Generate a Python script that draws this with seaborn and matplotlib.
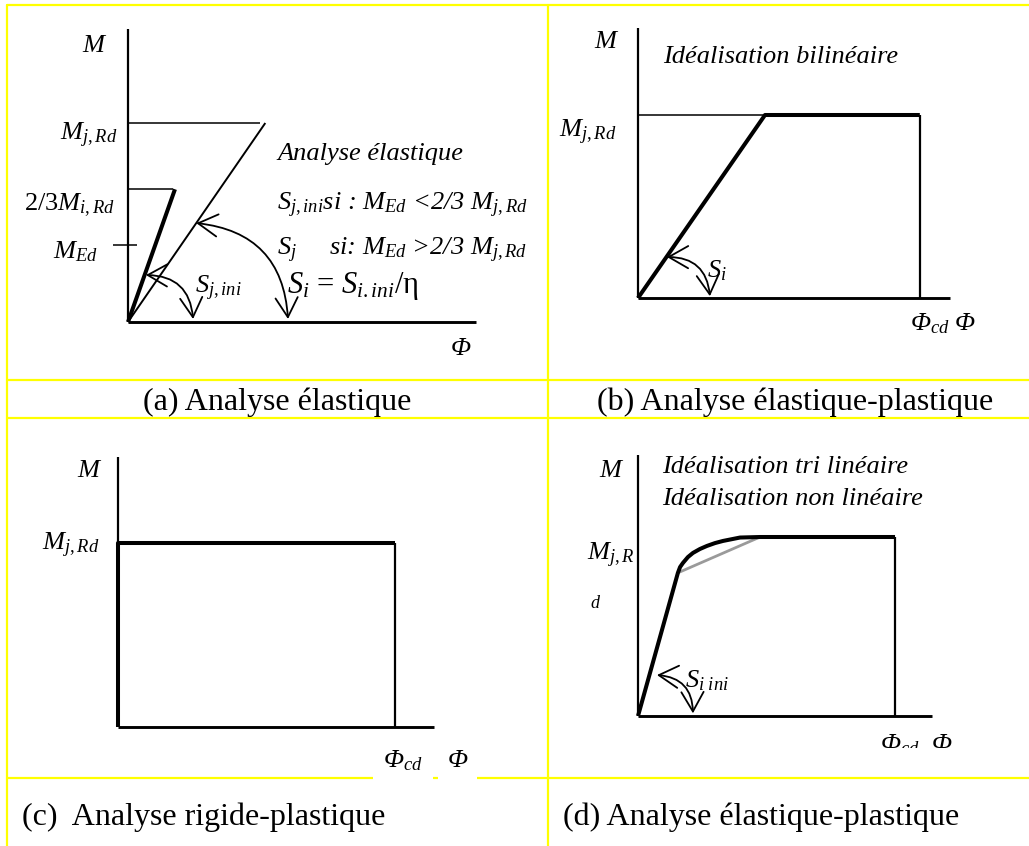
import matplotlib
matplotlib.use("Agg")
import matplotlib.pyplot as plt
import seaborn as sns
from matplotlib.lines import Line2D
from matplotlib.patches import FancyArrowPatch

# ---------------------------------------------------------------------------
# Moment-rotation curves (M normalised by M_j,Rd, rotation Phi in same units)
# ---------------------------------------------------------------------------
# (a) elastic analysis
phi_a_ini = [0.0, 0.236]          # initial stiffness S_j,ini up to 2/3 M_j,Rd
m_a_ini = [0.0, 0.667]
phi_a_sec = [0.0, 0.69]           # secant stiffness S_j up to M_j,Rd
m_a_sec = [0.0, 1.0]
m_a_levels = [1.0, 0.667]         # M_j,Rd and 2/3 M_j,Rd
phi_a_levels_end = [0.663, 0.226]
m_a_ed = 0.387                    # design moment M_Ed

# (b) elastic-plastic, bilinear idealisation
phi_b = [0.0, 0.694, 1.54]
m_b = [0.0, 1.0, 1.0]

# (c) rigid-plastic
phi_c = [0.0, 0.0, 1.505]
m_c = [0.0, 1.0, 1.0]

# (d) elastic-plastic, non-linear and tri-linear idealisation
phi_d = [0.0, 0.223, 0.235, 0.251, 0.279, 0.307, 0.346, 0.385, 0.430,
         0.475, 0.570, 0.682, 1.436]
m_d = [0.0, 0.80, 0.832, 0.855, 0.888, 0.911, 0.933, 0.950, 0.966,
       0.978, 0.997, 1.0, 1.0]
phi_d_tri = [0.223, 0.682]
m_d_tri = [0.80, 1.0]

captions = ["(a) Analyse élastique", "(b) Analyse élastique-plastique",
            "(c)  Analyse rigide-plastique", "(d) Analyse élastique-plastique"]

# ---------------------------------------------------------------------------
sns.set_theme(style="white")
plt.rcParams["font.family"] = ["Liberation Serif", "DejaVu Serif"]
plt.rcParams["mathtext.fontset"] = "custom"
plt.rcParams["mathtext.rm"] = "Liberation Serif"
plt.rcParams["mathtext.it"] = "Liberation Serif:italic"
plt.rcParams["mathtext.bf"] = "Liberation Serif:bold"

W, H = 1029, 846
fig = plt.figure(figsize=(W / 100, H / 100), dpi=100)
fig.patch.set_facecolor("white")

LAB = 19      # label size (pt)
CAP = 23      # caption size (pt)
THIN = 1.1
AXW = 1.6
THICK = 2.9


def panel_axes(left, top, right, bottom, origin, scale):
    """Axes covering a pixel box; data origin at `origin`, `scale` px per unit."""
    ax = fig.add_axes([left / W, 1 - bottom / H, (right - left) / W, (bottom - top) / H])
    ox, oy = origin
    ax.set_xlim((left - ox) / scale, (right - ox) / scale)
    ax.set_ylim((oy - bottom) / scale, (oy - top) / scale)
    ax.axis("off")
    ax.patch.set_visible(False)
    return ax


def curve(ax, x, y, lw, color="black"):
    sns.lineplot(x=x, y=y, ax=ax, sort=False, estimator=None, color=color,
                 lw=lw, solid_capstyle="butt", solid_joinstyle="round")


def frame(ax, top, right):
    curve(ax, [0, 0], [0, top], AXW)
    curve(ax, [0, right], [0, 0], AXW * 1.3)


def stiffness_arrow(ax, start, end, rad):
    ax.add_patch(FancyArrowPatch(start, end, connectionstyle=f"arc3,rad={rad}",
                                 arrowstyle="<->,head_length=0.7,head_width=0.4",
                                 mutation_scale=20, lw=1.3, color="black",
                                 shrinkA=0, shrinkB=0))


def lab(ax, x, y, s, size=LAB, style="italic", ha="left", **kw):
    return ax.text(x, y, s, fontsize=size, fontstyle=style, ha=ha, va="baseline",
                   color="black", **kw)


# ---------------- (a) ----------------
ax = panel_axes(7, 5, 548, 380, (128, 322), 199)
frame(ax, 1.47, 1.75)
for lvl, end in zip(m_a_levels, phi_a_levels_end):
    curve(ax, [0, end], [lvl, lvl], THIN)
curve(ax, phi_a_sec, m_a_sec, 1.4)
curve(ax, phi_a_ini, m_a_ini, THICK)
curve(ax, [-0.075, 0.045], [m_a_ed, m_a_ed], THIN)
stiffness_arrow(ax, (0.09, 0.236), (0.327, 0.015), -0.45)
stiffness_arrow(ax, (0.343, 0.497), (0.804, 0.015), -0.42)
lab(ax, -0.176, 1.357, "M", ha="center")
lab(ax, -0.055, 0.915, r"M$_{j,Rd}$", ha="right")
lab(ax, -0.065, 0.558, r"2/3$M_{i,Rd}$", style="normal", ha="right")
lab(ax, -0.15, 0.32, r"M$_{Ed}$", ha="right")
lab(ax, 0.749, 0.814, "Analyse élastique")
lab(ax, 0.749, 0.563, r"S$_{j,ini}$si : M$_{Ed}$ <2/3 M$_{j,Rd}$")
lab(ax, 0.749, 0.337, r"S$_{j}$     si: M$_{Ed}$ >2/3 M$_{j,Rd}$")
lab(ax, 0.80, 0.146, r"$S_{i}$ = $S_{i.ini}$/η", size=22, style="normal")
lab(ax, 0.337, 0.146, r"S$_{j,ini}$")
lab(ax, 1.67, -0.166, "Φ", ha="center")

# ---------------- (b) ----------------
ax = panel_axes(548, 5, 1029, 380, (638, 298), 183)
frame(ax, 1.475, 1.705)
curve(ax, [0, phi_b[1]], [m_b[1], m_b[1]], THIN)
curve(ax, [phi_b[-1], phi_b[-1]], [0, m_b[-1]], AXW)
curve(ax, phi_b, m_b, THICK)
stiffness_arrow(ax, (0.158, 0.224), (0.393, 0.01), -0.45)
lab(ax, -0.18, 1.366, "M", ha="center")
lab(ax, -0.115, 0.88, r"M$_{j,Rd}$", ha="right")
lab(ax, 0.137, 1.284, "Idéalisation bilinéaire")
lab(ax, 0.377, 0.115, r"S$_{i}$")
lab(ax, 1.486, -0.175, r"Φ$_{cd}$ Φ")

# ---------------- (c) ----------------
ax = panel_axes(7, 418, 548, 778, (118, 727), 184)
frame(ax, 1.467, 1.72)
curve(ax, [phi_c[-1], phi_c[-1]], [0, m_c[-1]], AXW)
curve(ax, phi_c, m_c, THICK)
lab(ax, -0.163, 1.359, "M", ha="center")
lab(ax, -0.098, 0.962, r"M$_{j,Rd}$", ha="right")
box = dict(facecolor="white", edgecolor="none", pad=7)
lab(ax, 1.44, -0.217, r"Φ$_{cd}$", bbox=box)
lab(ax, 1.79, -0.217, "Φ", bbox=box)

# ---------------- (d) ----------------
ax = panel_axes(548, 418, 1029, 748, (638, 716), 179)
frame(ax, 1.46, 1.64)
curve(ax, [phi_d[-1], phi_d[-1]], [0, m_d[-1]], AXW)
curve(ax, phi_d_tri, m_d_tri, 2.0, color="#9a9a9a")
curve(ax, phi_d, m_d, THICK)
stiffness_arrow(ax, (0.106, 0.229), (0.307, 0.015), -0.45)
lab(ax, -0.156, 1.335, "M", ha="center")
lab(ax, -0.285, 0.871, r"M$_{j,R}$")
lab(ax, -0.268, 0.603, "d", size=13)
lab(ax, 0.134, 1.358, "Idéalisation tri linéaire")
lab(ax, 0.134, 1.179, "Idéalisation non linéaire")
lab(ax, 0.263, 0.162, r"S$_{i\ ini}$")
lab(ax, 1.35, -0.20, r"Φ$_{cd}$  Φ", clip_on=True)

# ---------------- table grid and captions ----------------
YEL = "#FFFF00"
grid = [((7, 1029), (5, 5)), ((7, 7), (5, 846)), ((548, 548), (5, 846)),
        ((7, 1029), (380, 380)), ((7, 1029), (418, 418)), ((7, 1029), (778, 778))]
for xs, ys in grid:
    fig.add_artist(Line2D([x / W for x in xs], [1 - y / H for y in ys],
                          transform=fig.transFigure, color=YEL, lw=1.6, zorder=-1))

cap_pos = [(277, 410, "center"), (597, 410, "left"), (22, 825, "left"), (563, 825, "left")]
for (x, y, ha), txt in zip(cap_pos, captions):
    fig.text(x / W, 1 - y / H, txt, fontsize=CAP, ha=ha, va="baseline", color="black")

fig.savefig("out.png", dpi=100, facecolor="white")
